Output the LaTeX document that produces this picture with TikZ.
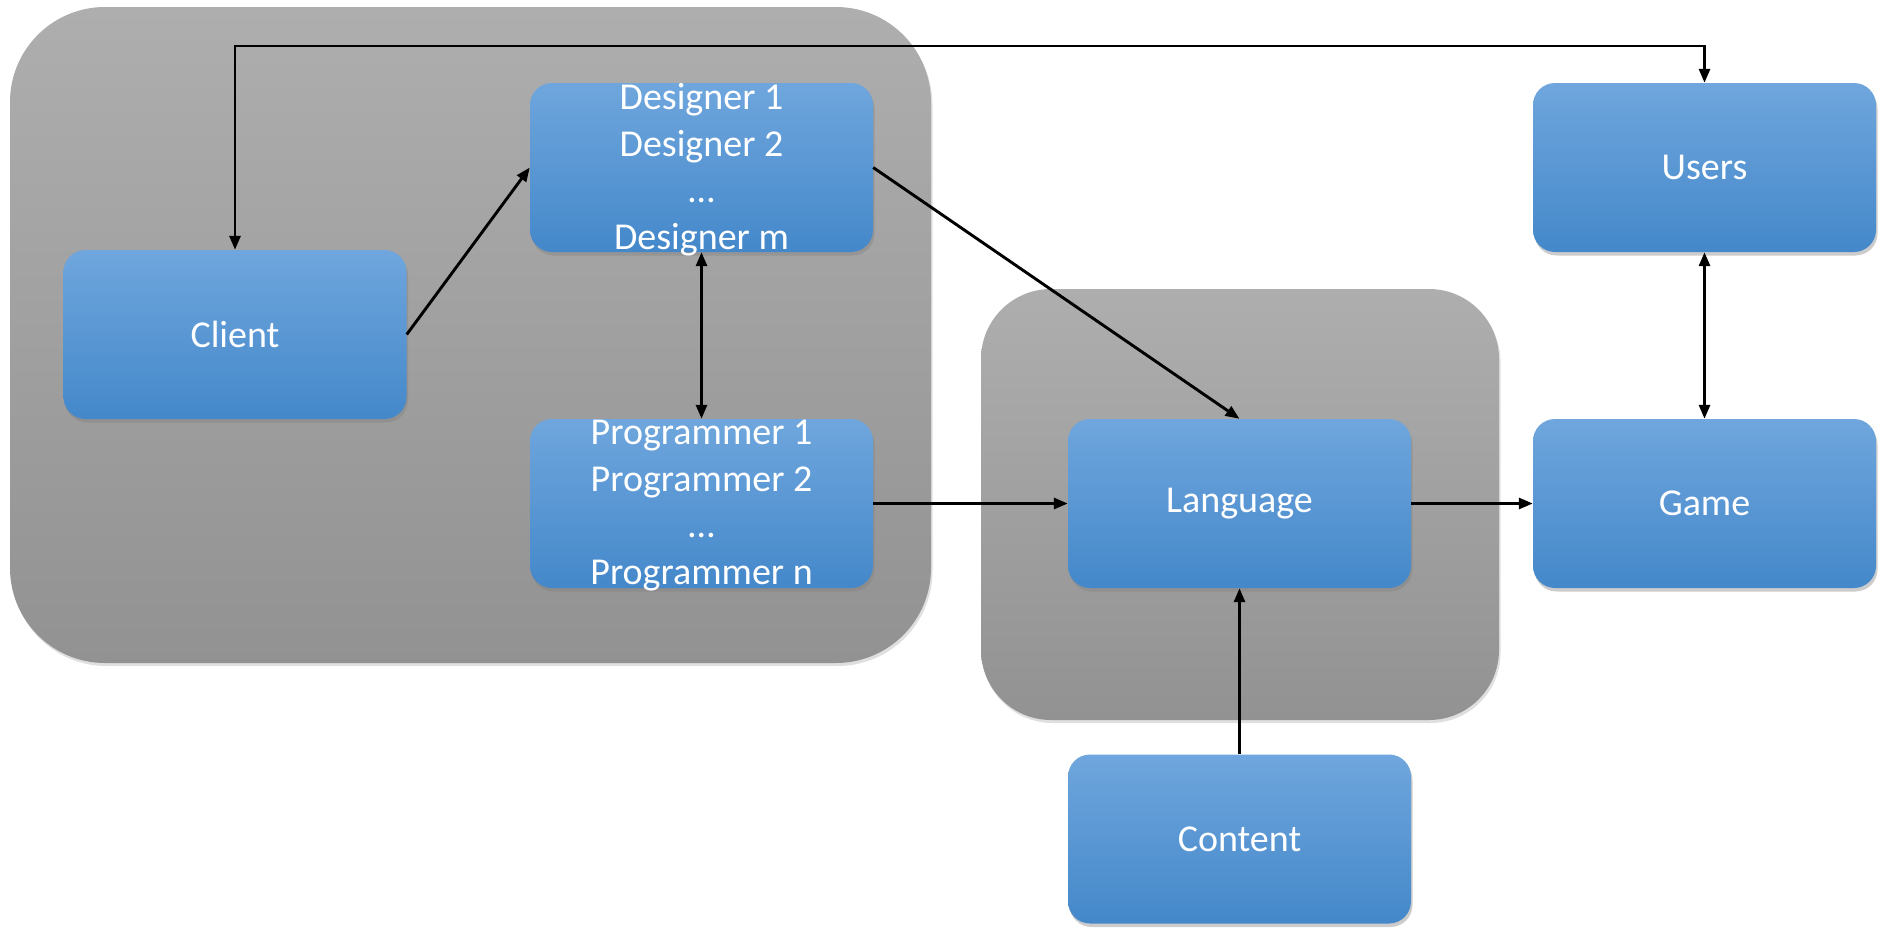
\documentclass[tikz,border=0pt]{standalone}
\usepackage{fontspec}
\setmainfont{Carlito}
\usetikzlibrary{arrows.meta,shadows}
\definecolor{btop}{HTML}{6FA6DD}
\definecolor{bbot}{HTML}{4488CA}
\definecolor{gtop}{HTML}{AEAEAE}
\definecolor{gbot}{HTML}{929292}
\tikzset{
  box/.style={rounded corners=22pt, minimum width=343pt, minimum height=169pt, inner sep=0pt,
    top color=btop, bottom color=bbot, draw=none,
    drop shadow={opacity=0.4, shadow xshift=1.5pt, shadow yshift=-3.5pt}},
  grp/.style={inner sep=0pt, top color=gtop, bottom color=gbot, draw=none,
    drop shadow={opacity=0.25, shadow xshift=1.5pt, shadow yshift=-3pt}},
  txt/.style={text=white, align=center, inner sep=0pt, font=\fontsize{38}{46.5}\selectfont},
  conn/.style={line width=2.9pt, black},
  tip/.style={-{Triangle[length=14pt,width=11pt]}},
  tips/.style={{Triangle[length=14pt,width=11pt]}-{Triangle[length=14pt,width=11pt]}}
}
\begin{document}
\begin{tikzpicture}[x=1pt,y=-1pt]
\useasboundingbox (0,0) rectangle (1888,935);
% group containers
\node[grp, rounded corners=95pt, minimum width=921pt, minimum height=656pt] (g1) at (470.5,335) {};
\node[grp, rounded corners=70pt, minimum width=518pt, minimum height=431pt] (g2) at (1240,504.5) {};
% boxes
\node[box] (client) at (235,334.5) {};
\node[box] (designer) at (701.5,167.5) {};
\node[box] (programmer) at (701.5,503.5) {};
\node[box] (language) at (1239.5,503.5) {};
\node[box] (content) at (1239.5,839) {};
\node[box] (users) at (1704.5,167.5) {};
\node[box] (game) at (1704.5,503.5) {};
% texts
\node[txt] (tclient) at (client) {Client};
\node[txt] (tdesigner) at ([yshift=-2pt]designer.center) {Designer 1\\Designer 2\\…\\Designer m};
\node[txt] (tprogrammer) at ([yshift=-2pt]programmer.center) {Programmer 1\\Programmer 2\\…\\Programmer n};
\node[txt] (tlanguage) at (language) {Language};
\node[txt] (tcontent) at (content) {Content};
\node[txt] (tusers) at (users) {Users};
\node[txt] (tgame) at (game) {Game};
% connectors
\coordinate (topline) at (0,46);
\draw[conn, tips] (client.north) -- (client.north |- topline) -- (users.north |- topline) -- (users.north);
\draw[conn, tip] (client.east) -- (designer.west);
\draw[conn, tips] (designer.south) -- (programmer.north);
\draw[conn, tip] (designer.east) -- (language.north);
\draw[conn, tip] (programmer.east) -- (language.west);
\draw[conn, tip] (language.east) -- (game.west);
\draw[conn, tip] (content.north) -- (language.south);
\draw[conn, tips] (game.north) -- (users.south);
\end{tikzpicture}
\end{document}
